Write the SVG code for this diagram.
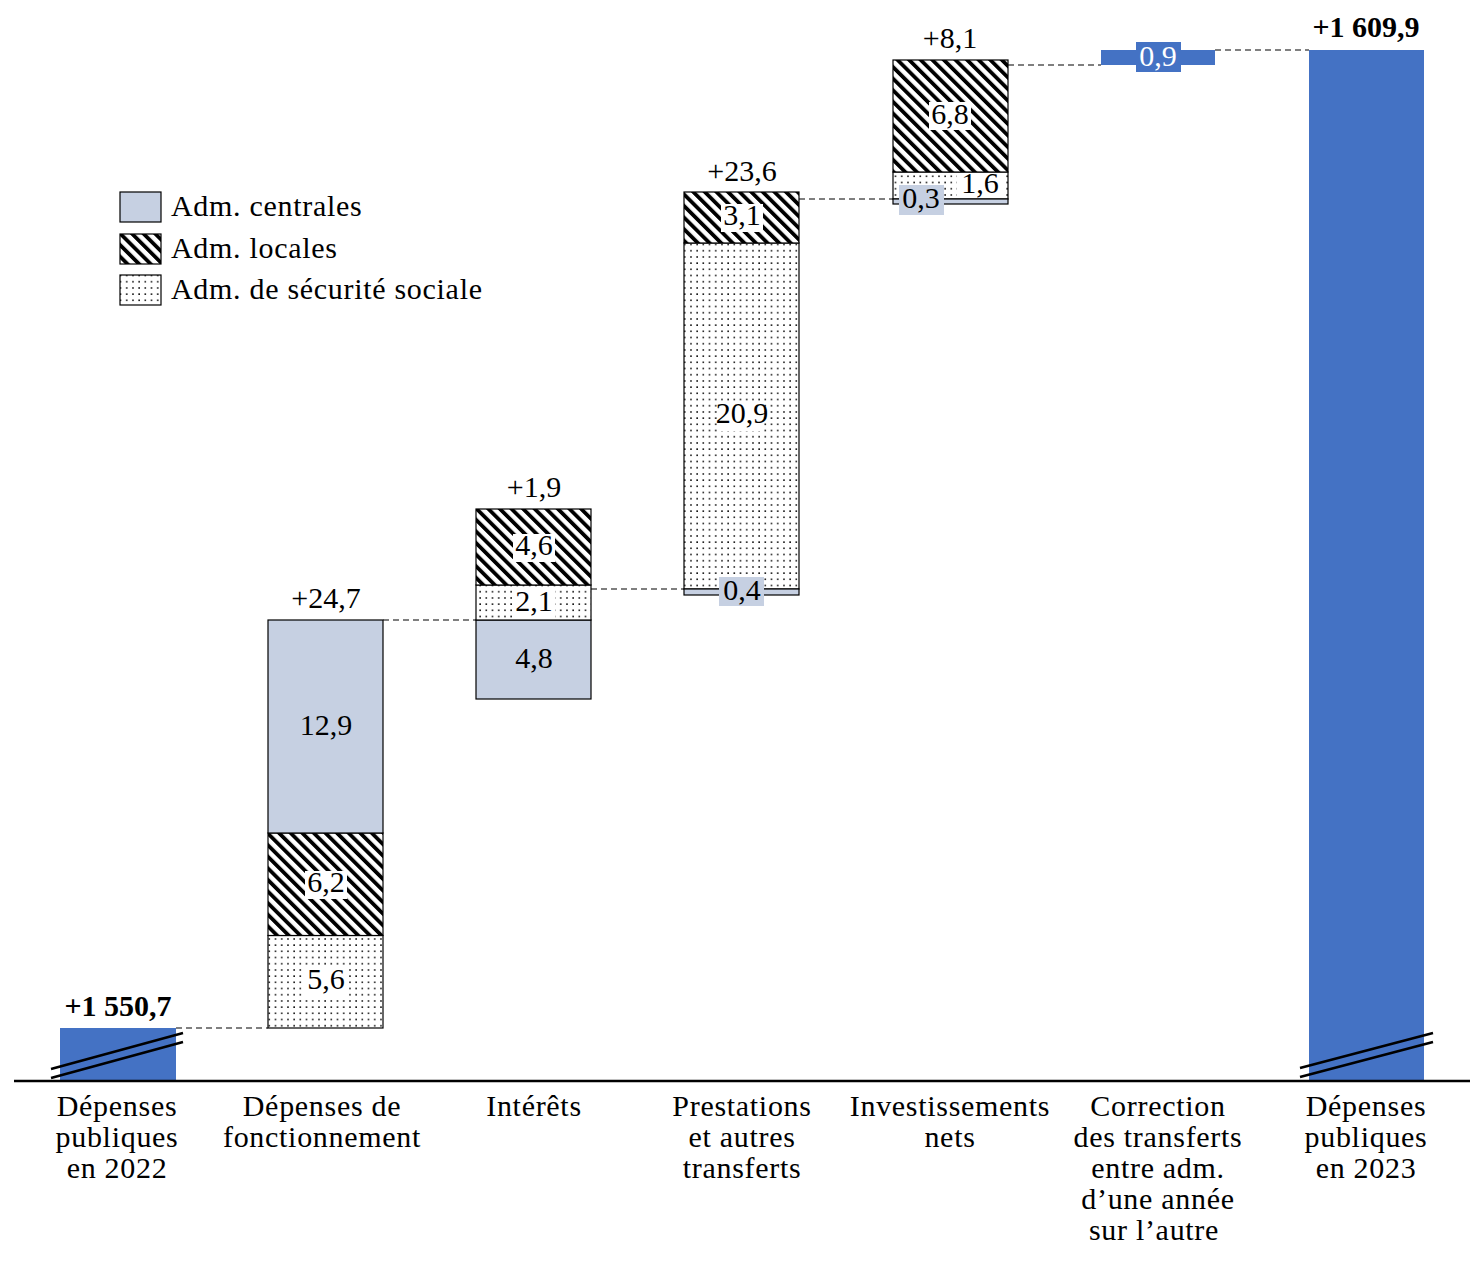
<svg xmlns="http://www.w3.org/2000/svg" width="1484" height="1268" viewBox="0 0 1484 1268">
<defs>
<pattern id="hatch" patternUnits="userSpaceOnUse" width="8.2" height="8.2" patternTransform="rotate(-45)">
<rect width="8.2" height="8.2" fill="#fff"/>
<rect x="0" y="0" width="3.8" height="8.2" fill="#000"/>
</pattern>
<pattern id="dots" patternUnits="userSpaceOnUse" width="6.2" height="6.2">
<rect width="6.2" height="6.2" fill="#fff"/>
<rect x="2" y="2" width="1.5" height="1.5" fill="#000"/>
</pattern>
<style>
.num{font-family:"Liberation Serif",serif;font-size:30px;fill:#000;text-anchor:middle}
.bold{font-weight:bold}
.cat{font-family:"Liberation Serif",serif;font-size:30px;fill:#000;text-anchor:middle;letter-spacing:0.7px}
.leg{font-family:"Liberation Serif",serif;font-size:30px;fill:#000;letter-spacing:0.7px}
.seg{stroke:#000;stroke-width:1.2}
.cen{fill:#C6D0E2}
.loc{fill:url(#hatch)}
.soc{fill:url(#dots)}
.blue{fill:#4472C4}
.wbox{fill:#fff}
.lbbox{fill:#C6D0E2}
.dash{stroke:#000;stroke-width:1.2;stroke-dasharray:6 4;fill:none}
.brk{stroke:#000;stroke-width:2.5;fill:none}
.wtxt{fill:#fff}
</style>
</defs>
<rect width="1484" height="1268" fill="#fff"/>

<g id="connectors">
<line class="dash" x1="176" y1="1028" x2="268" y2="1028"/>
<line class="dash" x1="383" y1="620" x2="476" y2="620"/>
<line class="dash" x1="591" y1="589" x2="684" y2="589"/>
<line class="dash" x1="799" y1="199" x2="893" y2="199"/>
<line class="dash" x1="1008" y1="65" x2="1101" y2="65"/>
<line class="dash" x1="1215" y1="50" x2="1309" y2="50"/>
</g>

<g id="legend">
<rect x="120" y="192" width="41" height="30" class="cen seg"/>
<text class="leg" x="171" y="216">Adm. centrales</text>
<rect x="120" y="234" width="41" height="30" class="loc seg"/>
<text class="leg" x="171" y="258">Adm. locales</text>
<rect x="120" y="275" width="41" height="30" class="soc seg"/>
<text class="leg" x="171" y="299">Adm. de sécurité sociale</text>
</g>

<g id="bar-2022">
<rect x="60" y="1028" width="116" height="53" class="blue"/>
<line class="brk" x1="51" y1="1069" x2="183" y2="1033"/>
<line class="brk" x1="51" y1="1078" x2="183" y2="1042"/>
<text class="num bold" x="118" y="1016">+1 550,7</text>
</g>

<g id="bar-fonctionnement">
<rect x="268" y="935.5" width="115" height="92.5" class="soc seg"/>
<rect x="268" y="833" width="115" height="102.5" class="loc seg"/>
<rect x="268" y="620" width="115" height="213" class="cen seg"/>
<text class="num" x="326" y="735">12,9</text>
<rect x="305" y="871" width="42" height="28" class="wbox"/>
<text class="num" x="326" y="892">6,2</text>
<rect x="305" y="968" width="42" height="28" class="wbox"/>
<text class="num" x="326" y="989">5,6</text>
<text class="num" x="326" y="608">+24,7</text>
</g>

<g id="bar-interets">
<rect x="476" y="620" width="115" height="79" class="cen seg"/>
<rect x="476" y="585" width="115" height="35" class="soc seg"/>
<rect x="476" y="509" width="115" height="76" class="loc seg"/>
<text class="num" x="534" y="668">4,8</text>
<rect x="513" y="588" width="42" height="30" class="wbox"/>
<text class="num" x="534" y="611">2,1</text>
<rect x="513" y="534" width="42" height="28" class="wbox"/>
<text class="num" x="534" y="555">4,6</text>
<text class="num" x="534" y="497">+1,9</text>
</g>

<g id="bar-prestations">
<rect x="684" y="243" width="115" height="346" class="soc seg"/>
<rect x="684" y="192" width="115" height="51" class="loc seg"/>
<rect x="684" y="589" width="115" height="6" class="cen seg"/>
<rect x="720" y="402" width="44" height="29" class="wbox"/>
<text class="num" x="742" y="423">20,9</text>
<rect x="721" y="204" width="42" height="28" class="wbox"/>
<text class="num" x="742" y="225">3,1</text>
<rect x="719" y="577" width="45" height="29" class="lbbox"/>
<text class="num" x="742" y="600">0,4</text>
<text class="num" x="742" y="181">+23,6</text>
</g>

<g id="bar-investissements">
<rect x="893" y="172" width="115" height="27" class="soc seg"/>
<rect x="893" y="60" width="115" height="112" class="loc seg"/>
<rect x="893" y="199" width="115" height="5" class="cen seg"/>
<rect x="929" y="102" width="42" height="28" class="wbox"/>
<text class="num" x="950" y="124">6,8</text>
<rect x="957" y="173" width="47" height="25" class="wbox"/>
<text class="num" x="980" y="193">1,6</text>
<rect x="899" y="185" width="45" height="30" class="lbbox"/>
<text class="num" x="921" y="208">0,3</text>
<text class="num" x="950" y="48">+8,1</text>
</g>

<g id="bar-correction">
<rect x="1101" y="50" width="114" height="15" class="blue"/>
<rect x="1136" y="42" width="45" height="30" class="blue"/>
<text class="num wtxt" x="1158" y="66">0,9</text>
</g>

<g id="bar-2023">
<rect x="1309" y="50" width="115" height="1031" class="blue"/>
<line class="brk" x1="1300" y1="1068" x2="1433" y2="1033"/>
<line class="brk" x1="1300" y1="1077" x2="1433" y2="1042"/>
<text class="num bold" x="1366" y="37">+1 609,9</text>
</g>

<g id="axis">
<line x1="14" y1="1081" x2="1470" y2="1081" stroke="#000" stroke-width="2.5"/>
</g>

<g id="categories">
<text class="cat" x="117" y="1116">Dépenses</text>
<text class="cat" x="117" y="1147">publiques</text>
<text class="cat" x="117" y="1178">en 2022</text>
<text class="cat" x="322" y="1116">Dépenses de</text>
<text class="cat" x="322" y="1147">fonctionnement</text>
<text class="cat" x="534" y="1116">Intérêts</text>
<text class="cat" x="742" y="1116">Prestations</text>
<text class="cat" x="742" y="1147">et autres</text>
<text class="cat" x="742" y="1178">transferts</text>
<text class="cat" x="950" y="1116">Investissements</text>
<text class="cat" x="950" y="1147">nets</text>
<text class="cat" x="1158" y="1116">Correction</text>
<text class="cat" x="1158" y="1147">des transferts</text>
<text class="cat" x="1158" y="1178">entre adm.</text>
<text class="cat" x="1158" y="1209">d’une année</text>
<text class="cat" x="1154" y="1240">sur l’autre</text>
<text class="cat" x="1366" y="1116">Dépenses</text>
<text class="cat" x="1366" y="1147">publiques</text>
<text class="cat" x="1366" y="1178">en 2023</text>
</g>
</svg>
